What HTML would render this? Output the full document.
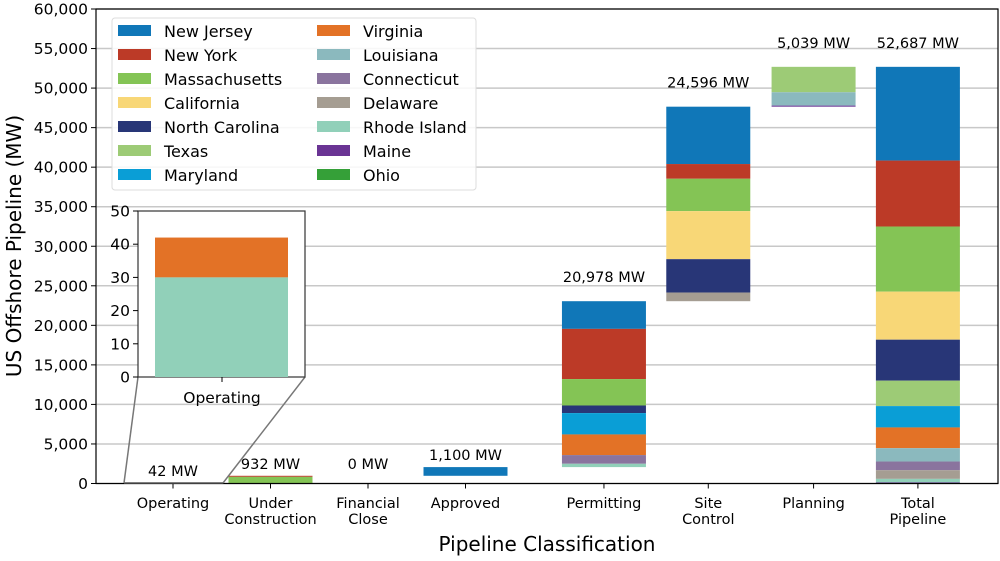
<!DOCTYPE html>
<html><head><meta charset="utf-8">
<style>
html,body{margin:0;padding:0;background:#fff;}
svg text{font-family:"DejaVu Sans","Liberation Sans",sans-serif;fill:#000;}
</style></head>
<body>
<svg id="chart" width="1000" height="556" viewBox="0 0 1000 556" xmlns="http://www.w3.org/2000/svg">
<g id="grid"></g>
<g id="bars"></g>
<g id="axes"></g>
<g id="legend"></g>
<g id="inset"></g>
</svg>
<script>
const categories = ["Operating","Under\nConstruction","Financial\nClose","Approved","Permitting","Site\nControl","Planning","Total\nPipeline"];
const catPos = [0,1,2,3,4.42,5.49,6.57,7.64];
const states = ["New Jersey","New York","Massachusetts","California","North Carolina","Texas","Maryland","Virginia","Louisiana","Connecticut","Delaware","Rhode Island","Maine","Ohio"];
const colors = ["#1077b8","#bc3a27","#84c455","#f8d777","#283677","#9dcb76","#0a9ed6","#e37226","#8bb9be","#8a749e","#a59d92","#91d0b9","#6a3494","#35a038"];
// values per stage, in state order
const operating    = [0,0,0,0,0,0,0,12,0,0,0,30,0,0];
const underConstr  = [0,132,800,0,0,0,0,0,0,0,0,0,0,0];
const finClose     = [0,0,0,0,0,0,0,0,0,0,0,0,0,0];
const approved     = [1100,0,0,0,0,0,0,0,0,0,0,0,0,0];
const permitting   = [3500,6348,3340,0,960,0,2700,2610,0,1100,0,420,0,0];
const siteControl  = [7253,1861,4090,6077,4221,0,0,0,0,0,1094,0,0,0];
const planning     = [0,0,0,0,0,3216,0,0,1688,0,0,0,135,0];
const stages = [operating,underConstr,finClose,approved,permitting,siteControl,planning];
const yTicks = [0,5000,10000,15000,20000,25000,30000,35000,40000,45000,50000,55000,60000];
const insetTicks = [0,10,20,30,40,50];

const NS="http://www.w3.org/2000/svg";
function mk(tag,attrs,parent){const e=document.createElementNS(NS,tag);for(const k in attrs)e.setAttribute(k,attrs[k]);parent.appendChild(e);return e;}
const L=96,R=998,T=9,B=483.5;
const y=v=>B-(v/60000)*(B-T);
const x=p=>173+p*97.5;
const bw=84;
const fmt=v=>v.toLocaleString("en-US");
const grid=document.getElementById('grid'),bars=document.getElementById('bars'),axes=document.getElementById('axes');

yTicks.forEach(t=>{
  const g=mk('line',{x1:L,x2:R,y1:y(t),y2:y(t),stroke:'#c8c8c8','stroke-width':1.5},grid);
  
  
  const tk=mk('line',{x1:L-5,x2:L,y1:y(t),y2:y(t),stroke:'#000','stroke-width':1},axes);
  
  
  const tx=mk('text',{x:L-8,y:y(t)+5.5,'text-anchor':'end','font-size':15.5},axes);
  tx.textContent=fmt(t);
  
  
});

function drawStack(vals,base,cx,label,off){
  let top=base+vals.reduce((a,b)=>a+b,0);
  let cur=top;
  vals.forEach((v,i)=>{
    if(v<=0)return;
    const r=mk('rect',{x:cx-bw/2,y:y(cur),width:bw,height:y(cur-v)-y(cur),fill:colors[i]},bars);
    
    
    cur-=v;
  });
  const t=mk('text',{x:cx,y:y(top)-off,'text-anchor':'middle','font-size':14.5},bars);
  t.textContent=fmt(label)+" MW";
  
  
}
let base=0;
stages.forEach((s,i)=>{
  const sum=s.reduce((a,b)=>a+b,0);
  drawStack(s,base,x(catPos[i]),sum,i<4?7:19);
  base+=sum;
});
const totals=states.map((_,i)=>stages.reduce((a,s)=>a+s[i],0));
drawStack(totals,0,x(catPos[7]),base,19);

// frame
const fr=mk('rect',{x:L,y:T,width:R-L,height:B-T,fill:'none',stroke:'#000','stroke-width':1.2},axes);


categories.forEach((c,i)=>{
  const cx=x(catPos[i]);
  const tk=mk('line',{x1:cx,x2:cx,y1:B,y2:B+5,stroke:'#000'},axes);
  
  
  c.split("\n").forEach((ln,j)=>{
    const t=mk('text',{x:cx,y:508+j*16,'text-anchor':'middle','font-size':14.5},axes);
    t.textContent=ln;
    
    
  });
});
const xl=mk('text',{x:547,y:551,'text-anchor':'middle','font-size':20},axes);
xl.textContent="Pipeline Classification";


const yl=mk('text',{x:0,y:0,'text-anchor':'middle','font-size':20,transform:'translate(21,246) rotate(-90)'},axes);
yl.textContent="US Offshore Pipeline (MW)";



// legend
const lg=document.getElementById('legend');
const lb=mk('rect',{x:112,y:18,width:364,height:172,rx:3,fill:'#fff','fill-opacity':0.85,stroke:'#dcdcdc'},lg);


states.forEach((s,i)=>{
  const col=Math.floor(i/7),row=i%7;
  const sx=118+col*199,cy=31+row*24;
  const g=mk('g',{},lg);
  
  
  mk('rect',{x:sx,y:cy-6,width:33,height:11,fill:colors[i]},g);
  const t=mk('text',{x:sx+46,y:cy+6,'font-size':16},g);
  t.textContent=s;
});

// inset
const ins=document.getElementById('inset');
const iL=138,iR=305,iT=211,iB=377;
const iy=v=>iB-(v/50)*(iB-iT);
const zr=mk('line',{x1:124,y1:483,x2:223,y2:483,stroke:'#555','stroke-width':1.5},ins);


const c1=mk('line',{x1:124,y1:483,x2:iL,y2:iB,stroke:'#777','stroke-width':1.5},ins);


const c2=mk('line',{x1:223,y1:483,x2:iR,y2:iB,stroke:'#777','stroke-width':1.5},ins);


const ib=mk('rect',{x:iL,y:iT,width:iR-iL,height:iB-iT,fill:'#fff',stroke:'#333','stroke-width':1.2},ins);


let ic=operating.reduce((a,b)=>a+b,0);
operating.forEach((v,i)=>{
  if(v<=0)return;
  const r=mk('rect',{x:155,y:iy(ic),width:133,height:iy(ic-v)-iy(ic),fill:colors[i]},ins);
  
  
  ic-=v;
});
insetTicks.forEach(t=>{
  const tk=mk('line',{x1:iL-5,x2:iL,y1:iy(t),y2:iy(t),stroke:'#000'},ins);
  
  
  const tx=mk('text',{x:iL-8,y:iy(t)+5.5,'text-anchor':'end','font-size':15.5},ins);
  tx.textContent=t;
  
  
});
mk('line',{x1:222,x2:222,y1:iB,y2:iB+5,stroke:'#000'},ins);
const it=mk('text',{x:222,y:403,'text-anchor':'middle','font-size':15.5},ins);
it.textContent="Operating";


</script>
</body></html>
